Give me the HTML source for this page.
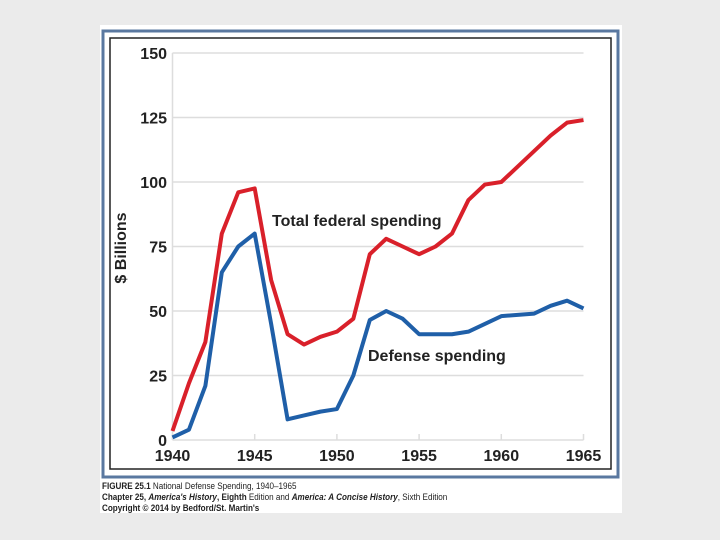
<!DOCTYPE html>
<html><head><meta charset="utf-8"><style>
body{margin:0;background:#ebebeb;}
#wrap{position:absolute;left:100px;top:25px;width:522px;height:488px;background:#fff;}
svg{position:absolute;left:0;top:0}
.cap{position:absolute;left:102px;font:9px "Liberation Sans",sans-serif;color:#222;white-space:nowrap;transform:scaleX(0.9);transform-origin:left}
</style></head><body>
<div id="wrap"></div>
<svg width="720" height="540" id="chart" font-family="Liberation Sans, sans-serif">
<rect x="103" y="31" width="515" height="446" fill="none" stroke="#5a78a0" stroke-width="3"/>
<rect x="110" y="38" width="501" height="431" fill="none" stroke="#222" stroke-width="1.5"/>
<g id="grid"></g><g id="series"></g><g id="labels"></g>
<text x="126" y="248" transform="rotate(-90 126 248)" text-anchor="middle" font-size="16" font-weight="bold" fill="#222">$ Billions</text>
<text x="272" y="226" font-size="16" font-weight="bold" fill="#222">Total federal spending</text>
<text x="368" y="361" font-size="16" font-weight="bold" fill="#222">Defense spending</text>
</svg>
<div class="cap" style="top:481px"><b>FIGURE 25.1</b> National Defense Spending, 1940–1965</div>
<div class="cap" style="top:492px"><b>Chapter 25, <i>America's History</i>, Eighth</b> Edition and <b><i>America: A Concise History</i></b>, Sixth Edition</div>
<div class="cap" style="top:503px"><b>Copyright © 2014 by Bedford/St. Martin's</b></div>
<script>
const years=[1940,1941,1942,1943,1944,1945,1946,1947,1948,1949,1950,1951,1952,1953,1954,1955,1956,1957,1958,1959,1960,1961,1962,1963,1964,1965];
const totalSpending=[3.5,22,38,80,96,97.5,62,41,37,40,42,47,72,78,75,72,75,80,93,99,100,106,112,118,123,124];
const defenseSpending=[1,4,21,65,75,80,45,8,9.5,11,12,25,46.5,50,47,41,41,41,42,45,48,48.5,49,52,54,51];
const yTicks=[0,25,50,75,100,125,150];
const xTicks=[1940,1945,1950,1955,1960,1965];
const NS='http://www.w3.org/2000/svg';
const x=v=>172.5+(v-1940)*16.44;
const y=v=>440-v*2.58;
function mk(t,a,p){const e=document.createElementNS(NS,t);for(const k in a)e.setAttribute(k,a[k]);document.getElementById(p).appendChild(e);return e;}
yTicks.forEach(t=>{
 const l=mk('line',{x1:x(1940),x2:x(1965),y1:y(t),y2:y(t),stroke:'#ddd','stroke-width':1.5},'grid');
 
 
 const tx=mk('text',{x:167,y:y(t)+6,'text-anchor':'end','font-size':16,'font-weight':'bold',fill:'#222'},'labels');
 tx.textContent=t;
 
 
});
const ax=mk('line',{x1:x(1940),x2:x(1940),y1:y(0),y2:y(150),stroke:'#ddd','stroke-width':1.5},'grid');


xTicks.forEach(t=>{
 const l=mk('line',{x1:x(t),x2:x(t),y1:y(0),y2:y(0)-6,stroke:'#ddd','stroke-width':1.5},'grid');
 
 
 const tx=mk('text',{x:x(t),y:461,'text-anchor':'middle','font-size':16,'font-weight':'bold',fill:'#222'},'labels');
 tx.textContent=t;
 
 
});
function line(vals,col,name){
 const p=mk('polyline',{points:vals.map((v,i)=>x(years[i])+','+y(v)).join(' '),fill:'none',stroke:col,'stroke-width':4,'stroke-linejoin':'round'},'series');
 
 
}
line(totalSpending,'#d9202a','total-spending-line');
line(defenseSpending,'#1f5fa8','defense-spending-line');
</script>
</body></html>
